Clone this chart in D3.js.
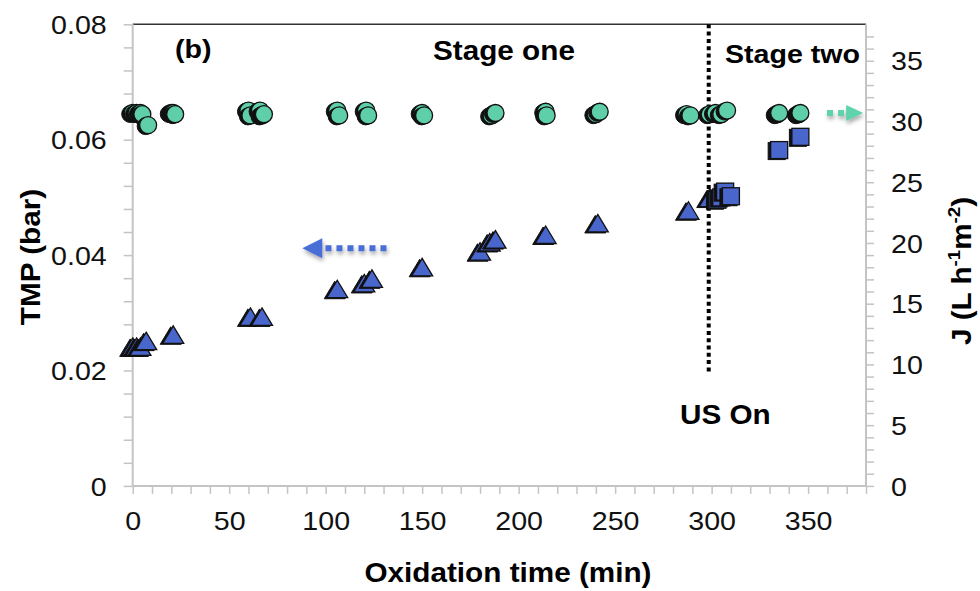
<!DOCTYPE html>
<html>
<head>
<meta charset="utf-8">
<script src="https://cdn.jsdelivr.net/npm/d3@7"></script>
<style>
  html, body { margin: 0; padding: 0; background: #fff; }
  svg { display: block; }
</style>
</head>
<body>
<svg id="chart" width="980" height="591"></svg>
<script>
// flux J (right axis)
const circleTime = [0, 2, 4, 5, 8, 20, 21, 22, 60, 61, 66, 67, 68, 106, 107, 121, 122, 150, 151, 186, 188, 214, 214.5, 240, 242, 287, 289, 299, 302, 305, 308, 334, 335, 345, 346];
const circleFlux = [30.7, 30.7, 30.7, 30.6, 29.7, 30.7, 30.7, 30.6, 30.9, 30.5, 30.9, 30.5, 30.6, 30.9, 30.5, 30.9, 30.5, 30.7, 30.5, 30.5, 30.7, 30.8, 30.5, 30.6, 30.8, 30.6, 30.5, 30.6, 30.7, 30.6, 30.9, 30.6, 30.7, 30.6, 30.7];
// TMP stage one (left axis)
const triTime = [0, 2, 4, 7, 21, 61, 67, 106, 120, 124, 150, 180, 185, 188, 214, 241, 288, 299];
const triTmp = [0.0240, 0.0240, 0.0240, 0.0250, 0.0261, 0.0292, 0.0292, 0.0340, 0.0350, 0.0358, 0.0378, 0.0405, 0.0421, 0.0426, 0.0434, 0.0454, 0.0476, 0.0498];
// TMP stage two (left axis)
const sqTime = [303, 305, 307, 310, 335, 346];
const sqTmp = [0.0496, 0.0500, 0.0510, 0.0502, 0.0582, 0.0605];

const xDomain = [0, 380];
const tmpDomain = [0, 0.08];
const fluxDomain = [0, 38];
const xMajor = [0, 50, 100, 150, 200, 250, 300, 350];

const usOnTime = 298.5;
const usLineBottomFlux = 9.3;
const tmpArrow = { y: 0.0412, from: 131.5, to: 87.9 };
const fluxArrow = { y: 30.7, from: 359.8, to: 378.5 };

const FONT = '"Liberation Sans", Arial, Helvetica, sans-serif';
const SX = 1.1;
const BLUE = '#4866cb', GREEN = '#5ecfa8';

const svg = d3.select('#chart');
const plot = { left: 132.7, right: 866, top: 24.3, bottom: 485.9 };

const x = d3.scaleLinear().domain(xDomain).range([plot.left, plot.right]);
const yL = d3.scaleLinear().domain(tmpDomain).range([plot.bottom, plot.top]);
const yR = d3.scaleLinear().domain(fluxDomain).range([plot.bottom, plot.top]);

const defs = svg.append('defs');
const shadow = defs.append('filter').attr('id', 'arrowShadow')
  .attr('x', '-30%').attr('y', '-80%').attr('width', '160%').attr('height', '260%');
shadow.append('feDropShadow').attr('dx', 1).attr('dy', 3).attr('stdDeviation', 2)
  .attr('flood-color', '#000').attr('flood-opacity', 0.35);

function txt(g, px, py, str, opt = {}) {
  const t = g.append('text')
    .attr('transform', `translate(${px},${py})` + (opt.rotate ? ` rotate(${opt.rotate})` : '') + ` scale(${SX},1)`)
    .attr('font-family', FONT)
    .attr('font-size', opt.size || 26)
    .attr('font-weight', opt.bold ? 700 : 400)
    .attr('text-anchor', opt.anchor || 'start')
    .attr('fill', '#000');
  if (str !== null) t.text(str);
  return t;
}

// top border
svg.append('line')
  .attr('x1', plot.left).attr('x2', plot.right)
  .attr('y1', plot.top).attr('y2', plot.top)
  .attr('stroke', '#333').attr('stroke-width', 1.5);

// axes
const isMajor = (v, step) => Math.abs(Math.round(v / step) * step - v) < 1e-9;

const xAxis = svg.append('g').attr('transform', `translate(0,${plot.bottom})`)
  .call(d3.axisBottom(x).tickValues(d3.range(0, 381, 10)).tickSize(8).tickPadding(18)
    .tickFormat(d => xMajor.includes(d) ? d : ''));

const leftAxis = svg.append('g').attr('transform', `translate(${plot.left},0)`)
  .call(d3.axisLeft(yL).tickValues(d3.range(0, 0.08001, 0.004)).tickSize(9)
    .tickFormat(d => isMajor(d, 0.02) ? (d < 1e-9 ? '0' : d3.format('.2f')(d)) : ''));

const rightAxis = svg.append('g').attr('transform', `translate(${plot.right},0)`)
  .call(d3.axisRight(yR).tickValues(d3.range(0, 38, 1)).tickSize(8)
    .tickFormat(d => d % 5 === 0 ? d : ''));

[xAxis, leftAxis, rightAxis].forEach(a => {
  a.select('.domain').attr('stroke', '#c4c4c4').attr('stroke-width', 2);
  a.selectAll('.tick line').attr('stroke', '#c4c4c4').attr('stroke-width', 1.5);
  a.selectAll('text').attr('font-family', FONT).attr('font-size', 26).attr('fill', '#111');
});
xAxis.select('.domain').attr('d', `M${plot.left},0H${plot.right}`);
leftAxis.select('.domain').attr('d', `M0,${plot.bottom}V${plot.top}`);
rightAxis.select('.domain').attr('d', `M0,${plot.bottom}V${plot.top}`);

xAxis.selectAll('.tick text').attr('transform', `scale(${SX},1)`);
leftAxis.selectAll('.tick text').attr('x', 0).attr('dy', '0.35em')
  .attr('transform', `translate(-26,0) scale(${SX},1)`);
rightAxis.selectAll('.tick text').attr('x', 0).attr('dy', '0.35em')
  .attr('transform', `translate(25,0) scale(${SX},1)`);

// US On dotted line
svg.append('line')
  .attr('x1', x(usOnTime)).attr('x2', x(usOnTime))
  .attr('y1', plot.top).attr('y2', yR(usLineBottomFlux))
  .attr('stroke', '#000').attr('stroke-width', 4).attr('stroke-dasharray', '4,3.3');

// direction arrows
function arrow(color, ay, from, to, headLen, headHalf, dash, thick) {
  const g = svg.append('g').attr('filter', 'url(#arrowShadow)');
  const dir = Math.sign(x(to) - x(from));
  const headBase = x(to) - dir * headLen;
  g.append('line')
    .attr('x1', x(from)).attr('x2', headBase)
    .attr('y1', ay).attr('y2', ay)
    .attr('stroke', color).attr('stroke-width', thick).attr('stroke-dasharray', dash);
  g.append('path')
    .attr('d', `M${x(to)},${ay}L${headBase},${ay - headHalf}L${headBase},${ay + headHalf}Z`)
    .attr('fill', color);
}
arrow('#4a6ed6', yL(tmpArrow.y), tmpArrow.from, tmpArrow.to, 20, 10, '6,5', 6);
arrow('#5fd3ab', yR(fluxArrow.y), fluxArrow.from, fluxArrow.to, 17, 8, '6,5', 6);

// markers
const SH = { dx: -2.5, dy: 1 };
const triPath = 'M0,-9.5L10.5,8L-10.5,8Z';

function drawMarkers(cls, data, fill, shapeFn) {
  const g = svg.append('g').attr('class', cls);
  data.forEach(d => {
    shapeFn(g, d.px + SH.dx, d.py + SH.dy).attr('fill', '#111').attr('stroke', '#111').attr('stroke-width', 1);
    shapeFn(g, d.px, d.py).attr('fill', fill).attr('stroke', '#111').attr('stroke-width', 1.3);
  });
}

drawMarkers('tri', triTime.map((t, i) => ({ px: x(t), py: yL(triTmp[i]) })), BLUE,
  (g, px, py) => g.append('path').attr('d', triPath).attr('transform', `translate(${px},${py})`));

drawMarkers('sq', sqTime.map((t, i) => ({ px: x(t), py: yL(sqTmp[i]) })), BLUE,
  (g, px, py) => g.append('rect').attr('x', px - 8.5).attr('y', py - 8.5).attr('width', 17).attr('height', 17));

drawMarkers('circ', circleTime.map((t, i) => ({ px: x(t), py: yR(circleFlux[i]) })), GREEN,
  (g, px, py) => g.append('circle').attr('cx', px).attr('cy', py).attr('r', 8.5));

// annotations
const ann = svg.append('g');
txt(ann, 175, 58, '(b)', { bold: true, size: 26 });
txt(ann, 433, 60, 'Stage one', { bold: true, size: 27 });
txt(ann, 725, 63, 'Stage two', { bold: true, size: 26 });
txt(ann, 680, 424, 'US On', { bold: true, size: 27 });

// axis titles
txt(svg, 508, 582, 'Oxidation time (min)', { bold: true, size: 27, anchor: 'middle' });
txt(svg, 40, 257, 'TMP (bar)', { bold: true, size: 27, anchor: 'middle', rotate: -90 });
const jt = txt(svg, 971, 271, null, { bold: true, size: 27, anchor: 'middle', rotate: -90 });
jt.append('tspan').text('J (L h');
jt.append('tspan').attr('font-size', 17).attr('dy', -11).text('-1');
jt.append('tspan').attr('dy', 11).text('m');
jt.append('tspan').attr('font-size', 17).attr('dy', -11).text('-2');
jt.append('tspan').attr('dy', 11).text(')');
</script>
</body>
</html>
